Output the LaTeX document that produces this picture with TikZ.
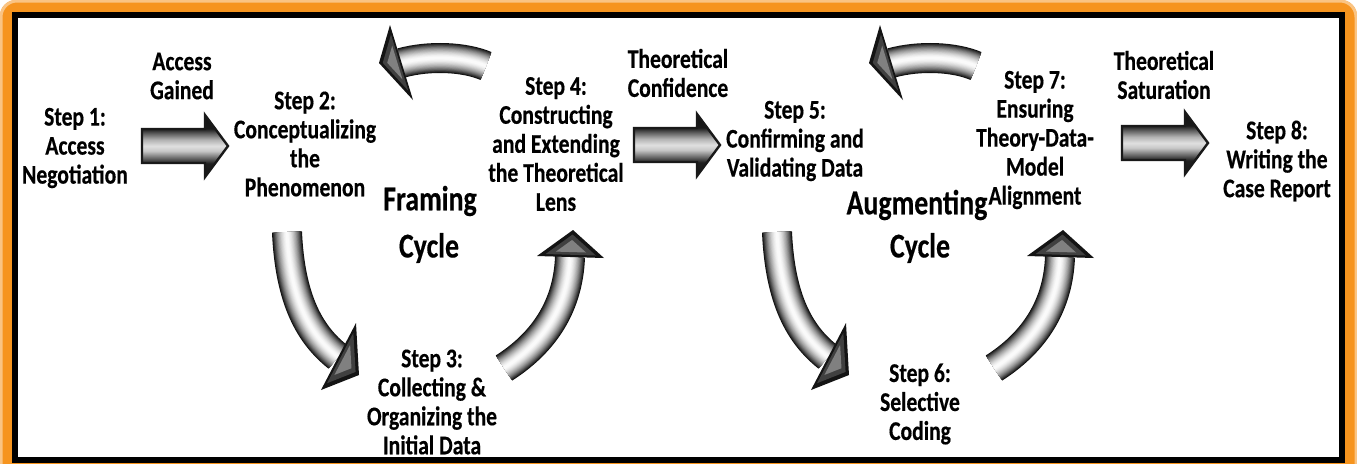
\documentclass[tikz,border=0pt]{standalone}
\usepackage{fontspec}
\setmainfont{Carlito}[FakeStretch=0.8, BoldFeatures={FakeBold=0.4}]
\usetikzlibrary{calc}
\definecolor{frameorange}{RGB}{246,148,30}
\pgfdeclareverticalshading{barrowsh}{100bp}{color(0bp)=(black);
  color(36bp)=(black!88); color(41bp)=(black!55); color(46bp)=(black!22);
  color(50bp)=(black!12); color(55bp)=(black!30); color(60bp)=(black!62);
  color(64bp)=(black!90); color(100bp)=(black)}
\tikzset{
  lbl/.style={font=\fontsize{13.5}{14.5}\selectfont\bfseries, align=center, inner sep=0pt, text=black},
  big/.style={font=\fontsize{17.4}{19}\selectfont\bfseries, inner sep=0pt, text=black},
  headout/.style={fill=black!92},
  headmid/.style={fill=black!75},
  headin/.style={fill=black!50},
  blockarrow/.style={draw=black!90, line width=1.2pt, line join=miter,
    shade, shading=barrowsh}
}
% tube: #1 = path (without \draw)
\newcommand\tubepath[1]{%
  \foreach \w/\c in {15/94,14.2/85,13.4/77,12.6/69,11.8/61,11/54,10.2/47,9.4/41,8.6/35,7.8/30,7/25,6.2/20,5.4/16,4.6/12,3.8/9,3/6,2.2/4,1.4/2}{%
    \draw[line width=\w pt, draw=black!\c, line cap=butt] #1;
  }%
}
\newcommand\mkhead[4]{%
  \coordinate (#4hc) at (barycentric cs:#1=1,#2=1,#3=1);
  \path[headout] (#1) -- (#2) -- (#3) -- cycle;
  \path[headmid] ($(#1)!0.25!(#4hc)$) -- ($(#2)!0.25!(#4hc)$) -- ($(#3)!0.25!(#4hc)$) -- cycle;
  \path[headin] ($(#1)!0.55!(#4hc)$) -- ($(#2)!0.55!(#4hc)$) -- ($(#3)!0.55!(#4hc)$) -- cycle;
}
\newcommand\mkcycle[2]{%
  % #1 = prefix, #2 = x shift
  \begin{scope}[shift={(#2,0)}]
  % down arrow
  \coordinate (#1dA) at (287,232);
  \coordinate (#1dB) at (338,357);
  \tubepath{(#1dA) .. controls (290,300) and (310,335) .. (#1dB)}
  \coordinate (#1dh1) at (356,323);
  \coordinate (#1dh2) at (359,375);
  \coordinate (#1dh3) at (321,390);
  \mkhead{#1dh1}{#1dh2}{#1dh3}{#1d}
  % up arrow
  \coordinate (#1uA) at (504,368);
  \coordinate (#1uB) at (570,257);
  \tubepath{(#1uA) .. controls (540,345) and (568,310) .. (#1uB)}
  \coordinate (#1uh1) at (537,256);
  \coordinate (#1uh2) at (573,230);
  \coordinate (#1uh3) at (604,258);
  \mkhead{#1uh1}{#1uh2}{#1uh3}{#1u}
  % top back arrow
  \coordinate (#1tA) at (486,66);
  \coordinate (#1tB) at (401,63);
  \tubepath{(#1tA) .. controls (465,57) and (430,55) .. (#1tB)}
  \coordinate (#1th1) at (390,25);
  \coordinate (#1th2) at (379,63);
  \coordinate (#1th3) at (413,100);
  \mkhead{#1th1}{#1th2}{#1th3}{#1t}
  \end{scope}
}
\newcommand\mkstraight[3]{%
  \coordinate (#1T) at (#2,#3);
  \coordinate (#1H) at (#2+86,#3);
  \path[blockarrow] (#1T) ++(0,-17) -- ++(63,0) -- ++(0,-14) -- (#1H) -- ++(-23,31) -- ++(0,-14) -- ++(-63,0) -- cycle;
}
\begin{document}
\begin{tikzpicture}[x=0.5pt,y=-0.5pt]
\useasboundingbox (0,0) rectangle (1357,463);
% frame
\fill[frameorange, rounded corners=8pt] (0,0) rectangle (1357,500);
\draw[frameorange!55, line width=1.5pt, rounded corners=8pt] (1,1) rectangle (1356,500);
\fill[white] (15,15) rectangle (1342,460);
\draw[black, line width=3pt] (15,15) rectangle (1342,460);

% straight arrows
\mkstraight{sa1}{142}{146}
\mkstraight{sa2}{634}{145}
\mkstraight{sa3}{1122}{143}

% cycles
\mkcycle{ca}{0}
\mkcycle{cb}{490}

% texts
\node[lbl] (s1) at (75,148) {Step 1:\\Access\\Negotiation};
\node[lbl] (ag) at (182,76) {Access\\Gained};
\node[lbl] (s2) at (305,144) {Step 2:\\Conceptualizing\\the\\Phenomenon};
\node[big] (fr) at (430,201) {Framing};
\node[big] (fc) at (429,248) {Cycle};
\node[lbl] (s3) at (432,402) {Step 3:\\Collecting \&\\Organizing the\\Initial Data};
\node[lbl] (s4) at (556,144) {Step 4:\\Constructing\\and Extending\\the Theoretical\\Lens};
\node[lbl] (tc) at (678,73) {Theoretical\\Confidence};
\node[lbl] (s5) at (795,141) {Step 5:\\Confirming and\\Validating Data};
\node[big] (au) at (917,205) {Augmenting};
\node[big] (ac) at (920,248) {Cycle};
\node[lbl] (s6) at (920,404) {Step 6:\\Selective\\Coding};
\node[lbl] (s7) at (1035,140) {Step 7:\\Ensuring\\Theory-Data-\\Model\\Alignment};
\node[lbl] (ts) at (1164,75) {Theoretical\\Saturation};
\node[lbl] (s8) at (1277,161) {Step 8:\\Writing the\\Case Report};
\end{tikzpicture}
\end{document}
